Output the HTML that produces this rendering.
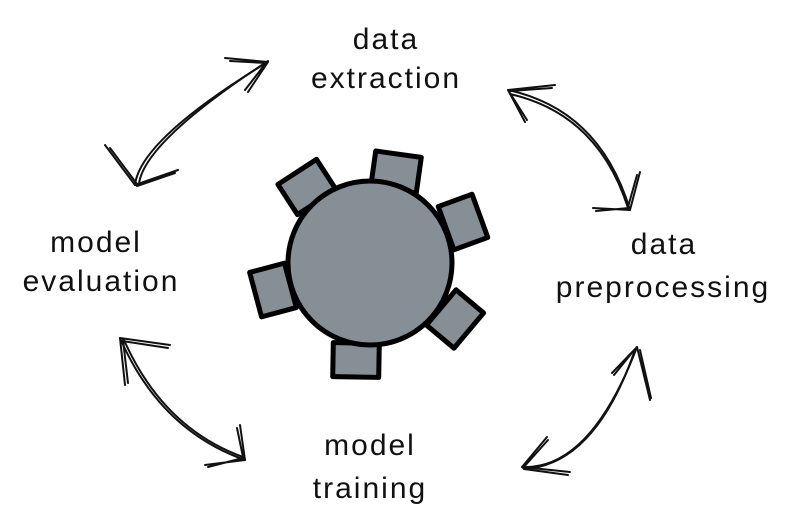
<!DOCTYPE html>
<html><head><style>
html,body{margin:0;padding:0;background:#fff;}
svg{display:block}
text{font-family:"Liberation Sans",sans-serif;font-size:30px;fill:#111;text-anchor:middle;letter-spacing:2px}
.a{fill:none;stroke:#111;stroke-width:2;stroke-linecap:round}
.c{fill:#868e96;stroke:#000;stroke-width:5;stroke-linejoin:round}
</style></head><body>
<svg width="789" height="528" viewBox="0 0 789 528">
<rect width="789" height="528" fill="#fff"/>
<g class="c">
<rect x="-23" y="-18" width="46" height="36" transform="translate(307,187) rotate(-33)"/>
<rect x="-23" y="-18" width="46" height="36" transform="translate(396,172) rotate(8)"/>
<rect x="-18" y="-23" width="36" height="46" transform="translate(463,222) rotate(-20)"/>
<rect x="-18" y="-23" width="36" height="46" transform="translate(273,290) rotate(-15)"/>
<rect x="-18" y="-23" width="36" height="46" transform="translate(455,319) rotate(40)"/>
<rect x="-23" y="-17" width="46" height="34" transform="translate(356,360) rotate(1)"/>
</g>
<circle cx="370" cy="263" r="82" class="c"/>
<g class="a">
<path d="M135,185 Q140,140 266,63"/><path d="M139,184 Q144,142 268,61"/>
<path d="M268,62 L225,58 M266,63 L230,61 M266,63 L245,90 M268,62 L248,92"/>
<path d="M135,185 L105,145 M137,184 L110,148 M135,185 L178,170 M137,186 L175,173"/>
<path d="M508,90 Q600,110 630,210"/><path d="M510,94 Q598,114 628,208"/>
<path d="M508,90 L555,85 M510,91 L552,88 M508,90 L525,122 M510,93 L527,120"/>
<path d="M630,210 L593,208 M629,208 L596,211 M630,210 L640,172 M628,207 L637,175"/>
<path d="M522,467 Q590,470 637,347"/><path d="M524,469 Q595,465 635,350"/>
<path d="M522,467 L547,437 M523,468 L548,440 M522,467 L570,472 M524,469 L568,475"/>
<path d="M637,347 L612,373 M635,349 L614,375 M637,347 L650,400 M640,350 L651,398"/>
<path d="M120,338 Q160,430 245,460"/><path d="M124,340 Q163,428 243,457"/>
<path d="M120,338 L170,345 M122,341 L168,348 M120,338 L125,385 M123,340 L128,383"/>
<path d="M245,460 L205,465 M243,458 L208,467 M245,460 L240,425 M243,457 L237,428"/>
</g>
<text x="386" y="49">data</text>
<text x="386" y="88">extraction</text>
<text x="664" y="254">data</text>
<text x="663" y="297">preprocessing</text>
<text x="96" y="252">model</text>
<text x="101" y="291">evaluation</text>
<text x="370" y="455">model</text>
<text x="370" y="498">training</text>
</svg>
</body></html>
